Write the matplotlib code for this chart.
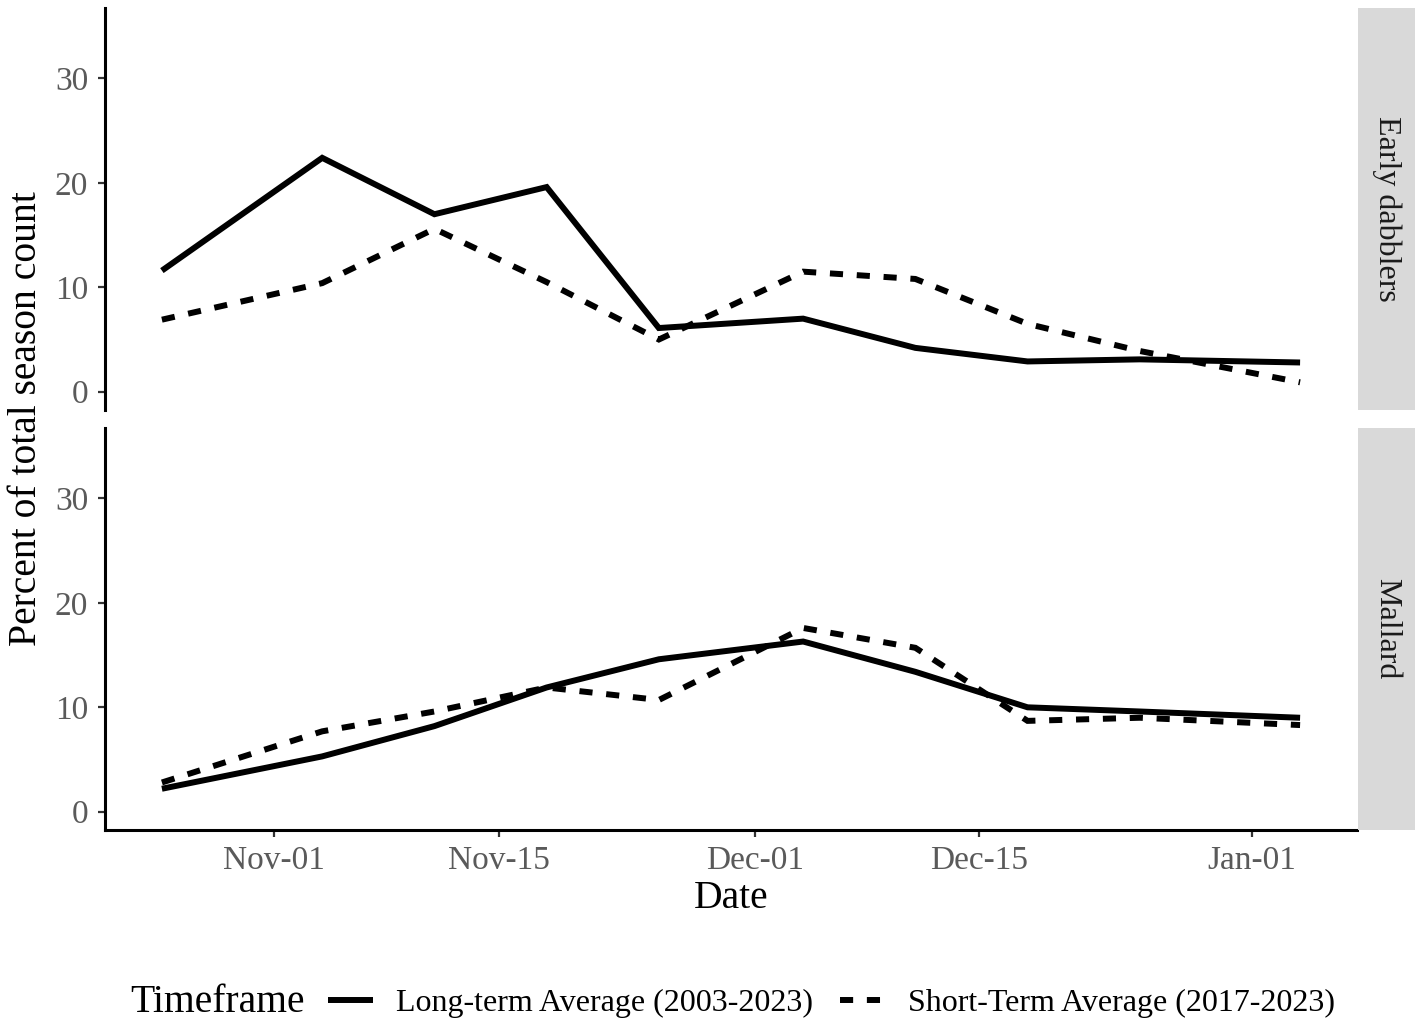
import datetime as dt
import matplotlib
matplotlib.use("Agg")
import matplotlib.pyplot as plt
import matplotlib.dates as mdates
from matplotlib.lines import Line2D

plt.rcParams['font.family'] = ['Liberation Serif', 'DejaVu Serif']

# даты учёта (середины недель)
dates = [dt.date(2023, 10, 25), dt.date(2023, 11, 4), dt.date(2023, 11, 11),
         dt.date(2023, 11, 18), dt.date(2023, 11, 25), dt.date(2023, 12, 4),
         dt.date(2023, 12, 11), dt.date(2023, 12, 18), dt.date(2023, 12, 25),
         dt.date(2024, 1, 4)]

panels = ["Early dabblers", "Mallard"]

# проценты от общего числа за сезон
dabblers_long = [11.6, 22.4, 17.0, 19.6, 6.1, 7.0, 4.2, 2.9, 3.1, 2.8]
dabblers_short = [6.9, 10.4, 15.6, 10.5, 5.0, 11.5, 10.8, 6.5, 3.9, 0.9]
mallard_long = [2.2, 5.3, 8.2, 11.9, 14.6, 16.3, 13.4, 10.0, 9.6, 9.0]
mallard_short = [2.8, 7.7, 9.6, 11.9, 10.7, 17.6, 15.7, 8.7, 9.0, 8.3]

series = {
    "Early dabblers": (dabblers_long, dabblers_short),
    "Mallard": (mallard_long, mallard_short),
}

labels = ["Long-term Average (2003-2023)", "Short-Term Average (2017-2023)"]
tick_dates = [dt.date(2023, 11, 1), dt.date(2023, 11, 15), dt.date(2023, 12, 1),
              dt.date(2023, 12, 15), dt.date(2024, 1, 1)]
y_ticks = [0, 10, 20, 30]

W, H = 1427, 1024
fig = plt.figure(figsize=(W / 100, H / 100), dpi=100)

lw = 4.3
dash = (2.2, 2.3)
tick_col = "#5a5a5a"

x_num = mdates.date2num(dates)
span = x_num.max() - x_num.min()
xlim = (x_num.min() - 0.05 * span, x_num.max() + 0.05 * span)

# положения панелей в пикселях: (верх, низ)
boxes = [(8, 410), (428, 830)]
left, right = 105, 1357
strip_l, strip_r = 1358, 1415

for i, (name, (top, bot)) in enumerate(zip(panels, boxes)):
    ax = fig.add_axes([left / W, 1 - bot / H, (right - left) / W, (bot - top) / H])
    long_vals, short_vals = series[name]
    ax.plot(dates, long_vals, color="black", lw=lw, solid_joinstyle="miter",
            solid_capstyle="butt")
    ax.plot(dates, short_vals, color="black", lw=lw, dashes=dash,
            dash_capstyle="butt", dash_joinstyle="miter")
    ax.set_xlim(xlim)
    ax.set_ylim(-1.75, 36.75)
    ax.set_yticks(y_ticks)
    ax.set_xticks(tick_dates)
    ax.xaxis.set_major_formatter(mdates.DateFormatter("%b-%d"))
    for s in ["top", "right"]:
        ax.spines[s].set_visible(False)
    ax.spines["left"].set_linewidth(2.2)
    ax.spines["bottom"].set_linewidth(2.2)
    ax.tick_params(axis="both", length=5, width=1.6, color="#333333",
                   labelsize=24, labelcolor=tick_col)
    ax.tick_params(axis="y", pad=7)
    ax.tick_params(axis="x", pad=6)
    if i == 0:
        ax.spines["bottom"].set_visible(False)
        ax.tick_params(axis="x", bottom=False, labelbottom=False)

    sax = fig.add_axes([strip_l / W, 1 - bot / H, (strip_r - strip_l) / W, (bot - top) / H])
    sax.set_facecolor("#d9d9d9")
    sax.set_xticks([])
    sax.set_yticks([])
    for s in sax.spines.values():
        s.set_visible(False)
    sax.text(0.5, 0.5, name, rotation=-90, ha="center", va="center",
             fontsize=23, color="#1a1a1a", transform=sax.transAxes)

fig.text(27 / W, 1 - 419 / H, "Percent of total season count", rotation=90,
         ha="center", va="center", fontsize=28.5, color="black")
fig.text(731 / W, 1 - 898 / H, "Date", ha="center", va="center", fontsize=28.5)

# легенда снизу
fig.text(130 / W, 1 - 1003 / H, "Timeframe", ha="left", va="center", fontsize=28.5)
handles = [Line2D([], [], color="black", lw=lw, solid_capstyle="butt"),
           Line2D([], [], color="black", lw=lw, dashes=dash, dash_capstyle="butt")]
fig.legend(handles, labels, loc="center left", bbox_to_anchor=(328 / W, 1 - 1003 / H),
           ncol=2, frameon=False, fontsize=23, handlelength=1.4,
           handletextpad=0.72, columnspacing=0.85, borderpad=0, borderaxespad=0)

fig.savefig("out.png", dpi=100, facecolor="white")
